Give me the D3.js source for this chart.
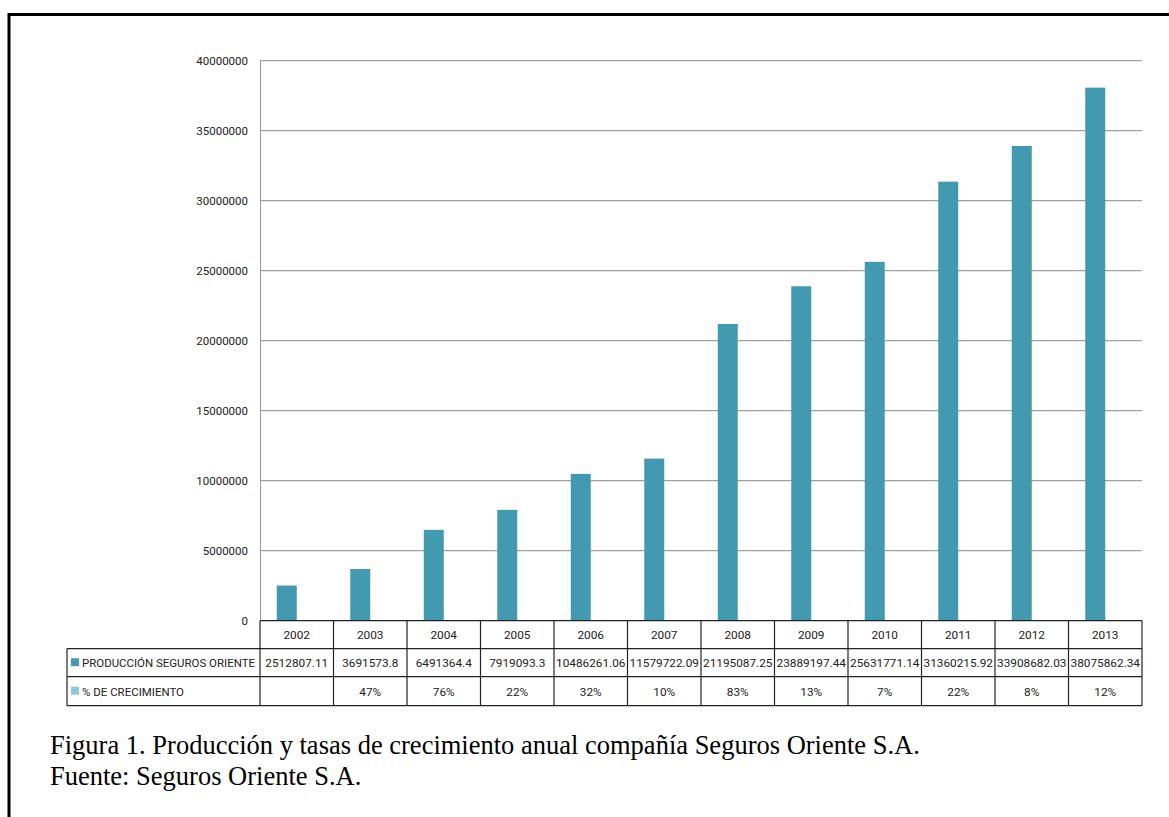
<!DOCTYPE html>
<html>
<head>
<meta charset="utf-8">
<script src="https://cdn.jsdelivr.net/npm/d3@7"></script>
<style>
  body { margin: 0; background: #fff; }
  svg { display: block; }
  .tick text { font-family: Roboto, "DejaVu Sans", sans-serif; font-size: 11.5px; fill: #222; }
  .cell { font-family: Roboto, "DejaVu Sans", sans-serif; font-size: 11.8px; fill: #222; }
  .caption { font-family: "Liberation Serif", "Times New Roman", serif; font-size: 26.5px; fill: #000; }
</style>
</head>
<body>
<div id="chart"></div>
<script>
// data
var years = ['2002','2003','2004','2005','2006','2007','2008','2009','2010','2011','2012','2013']
var produccion = [2512807.11, 3691573.8, 6491364.4, 7919093.3, 10486261.06, 11579722.09,
                  21195087.25, 23889197.44, 25631771.14, 31360215.92, 33908682.03, 38075862.34]
var produccionLabels = ['2512807.11','3691573.8','6491364.4','7919093.3','10486261.06','11579722.09',
                        '21195087.25','23889197.44','25631771.14','31360215.92','33908682.03','38075862.34']
var crecimiento = [null, 0.47, 0.76, 0.22, 0.32, 0.10, 0.83, 0.13, 0.07, 0.22, 0.08, 0.12]
var seriesNames = ['PRODUCCIÓN SEGUROS ORIENTE', '% DE CRECIMIENTO']
var seriesColors = ['#4399b0', '#93c6d8']
var yTicks = [0, 5000000, 10000000, 15000000, 20000000, 25000000, 30000000, 35000000, 40000000]

var W = 1169, H = 817
var plotLeft = 260, plotRight = 1142, plotTop = 60.7, plotBottom = 620.7
var tableLeft = 67, rowH = [28, 28, 29]

var svg = d3.select('#chart').append('svg')
  .attr('width', W)
  .attr('height', H)

// outer frame
svg.append('path')
  .attr('d', 'M9,' + (H + 5) + ' L9,14.5 L' + (W + 5) + ',14.5')
  .attr('fill', 'none')
  .attr('stroke', '#000')
  .attr('stroke-width', 3)

var x = d3.scaleBand()
  .domain(years)
  .range([plotLeft, plotRight])
  .paddingInner(0.456)
  .paddingOuter(0.228)

var xs = d3.scaleBand()
  .domain([0, 1])
  .range([0, x.bandwidth()])

var y = d3.scaleLinear()
  .domain([0, 40000000])
  .range([plotBottom, plotTop])

// gridlines
svg.append('g').selectAll('line')
  .data(yTicks.slice(1))
  .enter().append('line')
  .attr('x1', plotLeft).attr('x2', plotRight)
  .attr('y1', function(d) { return y(d) }).attr('y2', function(d) { return y(d) })
  .attr('stroke', '#a0a0a0')
  .attr('stroke-width', 1.3)

// y axis
var yAxis = svg.append('g')
  .attr('transform', 'translate(' + plotLeft + ',0)')
  .call(d3.axisLeft(y).tickValues(yTicks).tickFormat(d3.format('d')).tickSize(0).tickPadding(12))
yAxis.select('.domain').attr('stroke', '#999')

// bars
svg.append('g').selectAll('rect')
  .data(produccion)
  .enter().append('rect')
  .attr('x', function(d, i) { return x(years[i]) + xs(0) })
  .attr('width', xs.bandwidth())
  .attr('y', function(d) { return y(d) })
  .attr('height', function(d) { return y(0) - y(d) })
  .attr('fill', seriesColors[0])

svg.append('g').selectAll('rect')
  .data(crecimiento)
  .enter().append('rect')
  .attr('x', function(d, i) { return x(years[i]) + xs(1) })
  .attr('width', xs.bandwidth())
  .attr('y', function(d) { return y(d || 0) })
  .attr('height', function(d) { return y(0) - y(d || 0) })
  .attr('fill', seriesColors[1])

// data table
var rowY = [plotBottom, plotBottom + rowH[0], plotBottom + rowH[0] + rowH[1], plotBottom + rowH[0] + rowH[1] + rowH[2]]
var colX = years.map(function(d) { return x(d) - x.step() * x.paddingInner() / 2 })
colX.push(plotRight)

var tbl = svg.append('g').attr('stroke', '#222').attr('stroke-width', 1.2)
tbl.append('line').attr('x1', plotLeft).attr('x2', plotRight).attr('y1', rowY[0]).attr('y2', rowY[0])
for (var r = 1; r < 4; r++) {
  tbl.append('line').attr('x1', tableLeft).attr('x2', plotRight).attr('y1', rowY[r]).attr('y2', rowY[r])
}
colX.forEach(function(cx) {
  tbl.append('line').attr('x1', cx).attr('x2', cx).attr('y1', rowY[0]).attr('y2', rowY[3])
})
tbl.append('line').attr('x1', tableLeft).attr('x2', tableLeft).attr('y1', rowY[1]).attr('y2', rowY[3])

var fmtPct = d3.format('.0%')
years.forEach(function(yr, i) {
  var cx = x(yr) + x.bandwidth() / 2
  svg.append('text').attr('class', 'cell').attr('text-anchor', 'middle')
    .attr('x', cx).attr('y', (rowY[0] + rowY[1]) / 2 + 4.5).text(yr)
  svg.append('text').attr('class', 'cell').attr('text-anchor', 'middle')
    .attr('x', cx).attr('y', (rowY[1] + rowY[2]) / 2 + 4.5).text(produccionLabels[i])
  svg.append('text').attr('class', 'cell').attr('text-anchor', 'middle')
    .attr('x', cx).attr('y', (rowY[2] + rowY[3]) / 2 + 4.5)
    .text(crecimiento[i] == null ? '' : fmtPct(crecimiento[i]))
})

// legend keys in the table
var legendWidths = [173, 102]
seriesNames.forEach(function(name, i) {
  var ry = rowY[i + 1]
  svg.append('rect')
    .attr('x', tableLeft + 4).attr('y', ry + rowH[i + 1] / 2 - 4.5)
    .attr('width', 8).attr('height', 8)
    .attr('fill', seriesColors[i])
  svg.append('text').attr('class', 'cell')
    .attr('x', tableLeft + 15).attr('y', ry + rowH[i + 1] / 2 + 4.5)
    .attr('textLength', legendWidths[i])
    .attr('lengthAdjust', 'spacingAndGlyphs')
    .text(name)
})

// caption
svg.append('text').attr('class', 'caption')
  .attr('x', 50).attr('y', 754)
  .text('Figura 1. Producción y tasas de crecimiento anual compañía Seguros Oriente S.A.')
svg.append('text').attr('class', 'caption')
  .attr('x', 50).attr('y', 785)
  .text('Fuente: Seguros Oriente S.A.')
</script>
</body>
</html>
